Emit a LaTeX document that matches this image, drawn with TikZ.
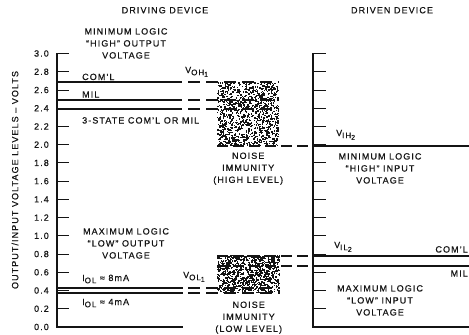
\documentclass[tikz,border=0pt]{standalone}
\usepackage{fontspec}
\setmainfont{Liberation Sans}[LetterSpace=12,FakeBold=0.6]
\usetikzlibrary{positioning}
\definecolor{Ink}{RGB}{20,20,20}
\newcommand{\sublab}[3]{#1\raisebox{-2.2pt}{\fontsize{8}{8}\selectfont #2\raisebox{-1.6pt}{\fontsize{7}{7}\selectfont #3}}}
\tikzset{
  axisln/.style={draw=Ink,line width=1.1pt},
  tickln/.style={draw=Ink,line width=0.9pt},
  levln/.style={draw=Ink,line width=1.7pt},
  levdash/.style={levln,dash pattern=on 12pt off 6pt},
  noisebox/.style={rectangle,inner sep=0pt,anchor=north west},
  speck/.style={fill=Ink},
  tlab/.style={font=\fontsize{9}{12}\selectfont,text=Ink,inner sep=0pt},
  blab/.style={tlab,align=center,anchor=north}
}

\begin{document}
\begin{tikzpicture}[x=1pt,y=-1pt]
\useasboundingbox (0,0) rectangle (469,335);
% headings
\node[tlab,anchor=base] (hdrive) at (165,13.3) {DRIVING DEVICE};
\node[tlab,anchor=base] (hdriven) at (392,13.3) {DRIVEN DEVICE};
\node[tlab,rotate=90] (yaxis) at (15,180) {OUTPUT/INPUT VOLTAGE LEVELS -- VOLTS};
% axes
\draw[axisln] (57,53) -- (57,327) -- (183,327);
\draw[axisln] (313,53) -- (313,327) -- (469,327);
\foreach \v [count=\i from 0] in {3.0,2.8,2.6,2.4,2.2,2.0,1.8,1.6,1.4,1.2,1.0,0.8,0.6,0.4,0.2,0.0}{
  \draw[tickln] (57,{53.5+18.23*\i}) -- ++(12,0);
  \draw[tickln] (313,{53.5+18.23*\i}) -- ++(13,0);
  \node[tlab,anchor=east] (tl\i) at (49,{53.5+18.23*\i}) {\v};
}
% noise immunity regions
\node[noisebox,minimum width=62pt,minimum height=64pt] (hibox) at (217,82) {};
\node[noisebox,minimum width=63pt,minimum height=38pt] (lobox) at (217,255) {};
\pgfmathsetseed{42}
\foreach \k in {1,...,1100}{
  \fill[speck] ({217+61*rnd},{82+63*rnd}) rectangle ++(1.4,1.4);
}
\foreach \k in {1,...,900}{
  \fill[speck] ({217+62*rnd},{255+37*rnd}) rectangle ++(1.4,1.4);
}
% output levels
\draw[levln] (57,82) -- (182,82);
\draw[levln] (57,100) -- (182,100);
\draw[levln] (57,109) -- (182,109);
\draw[levdash] (188,82) -- (279,82);
\draw[levdash] (188,100) -- (279,100);
\draw[levdash] (188,109) -- (279,109);
\draw[levln] (57,288) -- (183,288);
\draw[levln] (57,293) -- (183,293);
\draw[levdash] (188,288) -- (280,288);
\draw[levdash] (188,293) -- (280,293);
% input levels
\draw[levdash,dash pattern=on 11pt off 5pt] (217,146) -- (313,146);
\draw[levln] (313,146) -- (469,146);
\draw[levdash,dash pattern=on 11pt off 5pt] (217,256) -- (313,256);
\draw[levln] (313,256) -- (469,256);
\draw[levdash,dash pattern=on 11pt off 5pt] (217,266) -- (313,266);
\draw[levln] (313,266) -- (469,266);
% labels
\node[blab] (minout) at (126,28) {MINIMUM LOGIC\\“HIGH” OUTPUT\\VOLTAGE};
\node[tlab,anchor=base west] (comlo) at (82,80) {COM'L};
\node[tlab,anchor=base west] (milo) at (82,97.5) {MIL};
\node[tlab,anchor=base west] (tristate) at (82,123.5) {3-STATE COM'L OR MIL};
\node[tlab,anchor=base west] (voh) at (185,73) {\sublab{V}{OH}{1}};
\node[blab,below=6pt of hibox] (nhi) {NOISE\\IMMUNITY\\(HIGH LEVEL)};
\node[tlab,anchor=base west] (vih) at (336,136) {\sublab{V}{IH}{2}};
\node[blab] (minin) at (380,153) {MINIMUM LOGIC\\“HIGH” INPUT\\VOLTAGE};
\node[blab] (maxout) at (126,228) {MAXIMUM LOGIC\\“LOW” OUTPUT\\VOLTAGE};
\node[tlab,anchor=base west] (iol8) at (82,281) {\sublab{I}{OL}{} ≈ 8mA};
\node[tlab,anchor=base west] (iol4) at (82,305) {\sublab{I}{OL}{} ≈ 4mA};
\node[tlab,anchor=base west] (vol) at (183,278) {\sublab{V}{OL}{1}};
\node[blab,below=8pt of lobox] (nlo) {NOISE\\IMMUNITY\\(LOW LEVEL)};
\node[tlab,anchor=base west] (vil) at (334,248) {\sublab{V}{IL}{2}};
\node[tlab,anchor=base east] (comli) at (468,252.5) {COM'L};
\node[tlab,anchor=base east] (mili) at (468,276.5) {MIL};
\node[blab] (maxin) at (380,285) {MAXIMUM LOGIC\\“LOW” INPUT\\VOLTAGE};
\end{tikzpicture}
\end{document}
